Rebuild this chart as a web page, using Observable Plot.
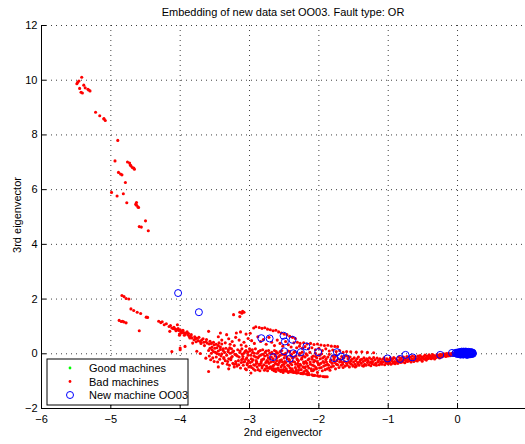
<!DOCTYPE html>
<html>
<head>
<meta charset="utf-8">
<script src="https://cdn.jsdelivr.net/npm/d3@7"></script>
<script src="https://cdn.jsdelivr.net/npm/@observablehq/plot@0.6"></script>
<style>
  html, body { margin: 0; padding: 0; background: #fff; }
  #chart { width: 525px; height: 444px; }
</style>
</head>
<body>
<div id="chart"></div>
<script>
// ---------- text ----------
const titleText = "Embedding of new data set OO03. Fault type: OR";
const xLabel = "2nd eigenvector";
const yLabel = "3rd eigenvector";
const legendLabels = ["Good machines", "Bad machines", "New machine OO03"];
const xTicks = [-6, -5, -4, -3, -2, -1, 0];
const yTicks = [-2, 0, 2, 4, 6, 8, 10, 12];

// ---------- data (x = 2nd eigenvector, y = 3rd eigenvector) ----------
const badTop = `-5.42,10.11 -5.48,9.92 -5.49,9.87 -5.46,9.97 -5.39,9.82 -5.37,9.72 -5.45,9.70 -5.33,9.67 -5.30,9.61 -5.43,9.56 -5.41,9.53 -5.32,9.64
-5.22,8.83 -5.16,8.70 -5.10,8.58 -5.08,8.53 -5.10,8.60 -4.90,7.80 -4.94,7.05 -4.76,7.01 -4.73,6.97 -4.71,6.87 -4.69,6.81 -4.66,6.75 -4.72,6.90 -4.67,6.79
-4.89,6.63 -4.86,6.57 -4.84,6.54 -4.79,6.26 -4.99,5.90 -4.91,5.77 -4.82,5.85 -4.77,5.52 -4.63,5.53 -4.63,5.43 -4.61,5.37 -4.60,5.35 -4.64,5.47
-4.50,4.86 -4.59,4.65 -4.56,4.63 -4.46,4.50`;

const badLeft = `-4.84,2.13 -4.81,2.09 -4.78,2.02 -4.74,2.00 -4.71,1.64 -4.67,1.58 -4.62,1.52 -4.57,1.47 -4.47,1.33 -4.49,1.34 -4.88,1.22 -4.85,1.18
-4.81,1.16 -4.78,1.13 -4.83,1.19 -4.59,0.84 -3.23,1.43 -3.14,1.52 -3.11,1.48 -3.08,1.52 -3.14,1.36 -3.10,1.55`;

const badStrand = `-4.31,1.19 -4.28,1.14 -4.26,1.17 -4.23,1.06 -4.20,1.10 -4.16,1.00 -4.14,1.03 -4.12,0.94 -4.09,0.97 -4.07,0.90 -4.04,1.06 -4.05,0.88
-4.02,0.85 -4.00,0.88 -3.99,0.80 -3.97,0.82 -3.95,0.78 -3.92,0.76 -3.93,0.72 -4.15,0.82 -4.01,0.72 -4.01,0.68 -3.89,0.70 -3.87,0.63 -3.85,0.66
-3.83,0.58 -3.80,0.51 -3.82,0.39 -3.78,0.55 -3.76,0.57 -3.74,0.48 -3.71,0.45 -3.69,0.50 -3.66,0.42 -3.63,0.44 -3.61,0.39 -3.58,0.36 -3.55,0.38
-3.51,0.33 -3.48,0.35 -3.45,0.30 -4.12,0.08 -4.00,0.21 -4.00,0.15 -3.93,0.27 -3.76,0.09 -3.59,-0.65 -3.63,-0.16 -3.71,0.01 -3.47,0.01 -3.37,-0.17
-4.10,0.92 -4.06,0.84 -4.03,0.92 -3.98,0.76 -3.96,0.86 -3.94,0.68 -3.90,0.80 -3.88,0.74 -3.86,0.58 -3.84,0.70 -3.79,0.62 -3.77,0.44 -3.73,0.60
-3.70,0.38 -3.67,0.55 -3.65,0.30 -3.62,0.52 -3.57,0.46 -3.54,0.25 -3.52,0.42 -3.50,0.20 -3.44,0.40 -3.42,0.25 -3.40,0.36 -3.38,0.18`;

const badUpper = `-3.59,0.82 -3.42,0.76 -3.33,0.70 -3.19,0.76 -3.13,0.80 -3.05,0.72 -2.99,0.75 -2.94,0.94 -2.91,0.99 -2.86,0.96 -2.82,0.93 -2.78,0.95
-2.74,0.90 -2.70,0.88 -2.66,0.84 -2.62,0.86 -2.58,0.80 -2.54,0.76 -2.50,0.72 -2.46,0.70 -2.42,0.64 -2.38,0.60 -2.34,0.56 -2.31,0.42 -2.27,0.38
-2.22,0.40 -2.17,0.36 -2.12,0.38 -2.07,0.34 -2.02,0.36 -1.97,0.32 -1.92,0.30 -1.87,0.31 -1.82,0.28 -1.77,0.27 -1.73,0.26
-3.30,0.55 -3.25,0.45 -3.20,0.60 -3.15,0.50 -3.08,0.42 -3.02,0.56 -2.97,0.48 -2.93,0.38 -2.88,0.62 -2.84,0.45 -2.80,0.52 -2.76,0.35 -2.72,0.60
-2.68,0.42 -2.64,0.30 -2.60,0.50 -2.56,0.38 -2.52,0.28 -2.48,0.45 -2.44,0.33 -2.40,0.25 -2.36,0.40 -2.32,0.22 -2.28,0.28 -2.24,0.20 -2.20,0.26
-2.15,0.18 -2.10,0.22 -2.05,0.15 -2.00,0.20 -1.95,0.12 -1.90,0.18 -1.85,0.10 -1.80,0.14 -1.75,0.08 -1.70,0.12 -1.65,0.05 -1.60,0.08
-3.45,0.62 -3.40,0.50 -3.35,0.40 -3.28,0.35 -3.22,0.30 -3.12,0.32 -3.05,0.28 -1.54,0.07 -1.46,0.06 -1.38,0.07 -1.30,0.05 -1.21,0.04
-3.45,-0.48 -2.98,-0.70 -3.30,-0.55`;

const badBand = `-3.59,0.12 -3.58,-0.08 -3.57,0.20 -3.56,-0.22 -3.55,0.02 -3.54,0.15 -3.53,-0.15 -3.52,0.08 -3.51,-0.28
-3.49,0.05 -3.48,-0.12 -3.47,0.22 -3.46,-0.30 -3.45,0.10 -3.44,-0.02 -3.43,-0.20 -3.42,0.16 -3.41,-0.08 -3.40,0.00
-3.39,-0.35 -3.38,0.12 -3.37,-0.14 -3.36,0.05 -3.35,-0.25 -3.34,0.20 -3.33,-0.05 -3.32,-0.38 -3.31,0.08 -3.30,-0.18 -3.305,0.15 -3.315,-0.28
-3.29,-0.42 -3.28,0.02 -3.27,-0.22 -3.26,0.18 -3.25,-0.10 -3.24,-0.35 -3.23,0.10 -3.22,-0.48 -3.21,-0.02 -3.20,-0.28 -3.285,0.22 -3.265,-0.15 -3.245,0.06 -3.225,-0.38
-3.19,-0.05 -3.18,-0.45 -3.17,0.15 -3.16,-0.25 -3.15,-0.12 -3.14,0.05 -3.13,-0.52 -3.12,-0.32 -3.11,0.18 -3.10,-0.18 -3.195,-0.36 -3.175,-0.08 -3.155,-0.40 -3.135,0.10 -3.115,-0.22 -3.105,-0.02
-3.09,-0.42 -3.08,0.02 -3.07,-0.28 -3.06,-0.55 -3.05,0.12 -3.04,-0.15 -3.03,-0.35 -3.02,-0.05 -3.01,-0.48 -3.00,0.18 -3.095,-0.10 -3.085,-0.30 -3.065,0.08 -3.055,-0.20 -3.045,-0.58 -3.035,-0.40 -3.025,0.05 -3.015,-0.25
-2.99,-0.32 -2.98,-0.05 -2.97,-0.50 -2.96,0.15 -2.95,-0.22 -2.94,-0.40 -2.93,0.02 -2.92,-0.60 -2.91,-0.12 -2.90,-0.35 -2.995,0.10 -2.985,-0.45 -2.975,-0.18 -2.965,-0.28 -2.955,0.05 -2.945,-0.55 -2.935,-0.08 -2.925,-0.42 -2.915,0.18 -2.905,-0.25
-2.89,-0.48 -2.88,-0.15 -2.87,0.08 -2.86,-0.38 -2.85,-0.62 -2.84,-0.05 -2.83,-0.28 -2.82,-0.52 -2.81,0.15 -2.80,-0.20 -2.895,-0.30 -2.885,0.02 -2.875,-0.58 -2.865,-0.10 -2.855,-0.42 -2.845,0.12 -2.835,-0.35 -2.825,-0.22 -2.815,-0.45 -2.805,-0.02
-2.79,-0.40 -2.78,-0.08 -2.77,-0.55 -2.76,0.10 -2.75,-0.25 -2.74,-0.62 -2.73,-0.15 -2.72,-0.35 -2.71,0.02 -2.70,-0.48 -2.795,-0.18 -2.785,-0.60 -2.775,0.05 -2.765,-0.32 -2.755,-0.45 -2.745,-0.05 -2.735,-0.28 -2.725,0.12 -2.715,-0.52 -2.705,-0.20
-2.69,-0.30 -2.68,0.05 -2.67,-0.58 -2.66,-0.18 -2.65,-0.42 -2.64,0.12 -2.63,-0.08 -2.62,-0.65 -2.61,-0.25 -2.60,-0.38 -2.695,-0.50 -2.685,-0.12 -2.675,0.00 -2.665,-0.45 -2.655,-0.28 -2.645,-0.62 -2.635,-0.02 -2.625,-0.35 -2.615,0.08 -2.605,-0.15
-2.59,-0.52 -2.58,-0.10 -2.57,-0.32 -2.56,0.08 -2.55,-0.65 -2.54,-0.22 -2.53,-0.42 -2.52,-0.02 -2.51,-0.58 -2.50,-0.15 -2.595,0.02 -2.585,-0.40 -2.575,-0.60 -2.565,-0.25 -2.555,-0.05 -2.545,-0.48 -2.535,0.12 -2.525,-0.30 -2.515,-0.68 -2.505,-0.38
-2.49,-0.28 -2.48,0.02 -2.47,-0.55 -2.46,-0.12 -2.45,-0.42 -2.44,-0.68 -2.43,-0.20 -2.42,0.08 -2.41,-0.35 -2.40,-0.60 -2.495,-0.48 -2.485,-0.05 -2.475,-0.32 -2.465,-0.62 -2.455,-0.18 -2.445,0.10 -2.435,-0.45 -2.425,-0.25 -2.415,-0.52 -2.405,-0.08
-2.39,-0.40 -2.38,-0.15 -2.37,-0.62 -2.36,0.05 -2.35,-0.30 -2.34,-0.50 -2.33,-0.08 -2.32,-0.70 -2.31,-0.22 -2.30,-0.45 -2.395,-0.02 -2.385,-0.55 -2.375,-0.28 -2.365,-0.68 -2.355,-0.12 -2.345,0.08 -2.335,-0.38 -2.325,-0.58 -2.315,-0.18 -2.305,-0.35
-2.29,-0.60 -2.28,-0.05 -2.27,-0.38 -2.26,-0.72 -2.25,-0.20 -2.24,0.06 -2.23,-0.48 -2.22,-0.30 -2.21,-0.65 -2.20,-0.12 -2.295,-0.25 -2.285,-0.50 -2.275,0.02 -2.265,-0.42 -2.255,-0.58 -2.245,-0.15 -2.235,-0.70 -2.225,-0.08 -2.215,-0.35 -2.205,-0.52
-2.19,-0.28 -2.18,-0.60 -2.17,-0.05 -2.16,-0.45 -2.15,-0.70 -2.14,-0.18 -2.13,0.05 -2.12,-0.38 -2.11,-0.55 -2.10,-0.12 -2.195,-0.48 -2.185,0.00 -2.175,-0.35 -2.165,-0.65 -2.155,-0.22 -2.145,-0.52 -2.125,-0.30 -2.105,-0.62
-2.09,-0.42 -2.08,-0.08 -2.07,-0.58 -2.06,-0.25 -2.05,0.02 -2.04,-0.50 -2.03,-0.15 -2.02,-0.68 -2.01,-0.35 -2.00,-0.05 -2.095,-0.20 -2.085,-0.62 -2.075,-0.30 -2.065,-0.45 -2.045,-0.10 -2.035,-0.55 -2.025,-0.28 -2.005,-0.40
-1.99,-0.52 -1.98,-0.18 -1.97,-0.35 -1.96,0.00 -1.95,-0.62 -1.94,-0.28 -1.93,-0.45 -1.92,-0.10 -1.91,-0.58 -1.90,-0.22 -1.995,-0.40 -1.985,-0.05 -1.965,-0.50 -1.945,-0.15 -1.925,-0.32 -1.905,-0.42
-1.89,-0.30 -1.88,-0.55 -1.87,-0.12 -1.86,-0.42 -1.85,-0.02 -1.84,-0.60 -1.83,-0.22 -1.82,-0.48 -1.81,-0.35 -1.80,-0.08 -1.895,-0.18 -1.875,-0.38 -1.855,-0.52 -1.835,-0.28
-1.79,-0.45 -1.78,-0.15 -1.77,-0.32 -1.76,-0.55 -1.75,-0.05 -1.74,-0.25 -1.73,-0.40 -1.72,-0.18 -1.71,-0.50 -1.70,-0.30 -1.785,-0.22 -1.765,-0.10 -1.745,-0.38
-1.69,-0.20 -1.68,-0.42 -1.67,-0.10 -1.66,-0.32 -1.65,-0.50 -1.64,-0.15 -1.63,-0.28 -1.62,-0.45 -1.61,-0.08 -1.60,-0.35 -1.685,-0.25 -1.655,-0.38
-1.59,-0.42 -1.58,-0.18 -1.57,-0.30 -1.56,-0.48 -1.55,-0.12 -1.54,-0.25 -1.53,-0.38 -1.52,-0.20 -1.51,-0.45 -1.50,-0.30 -1.575,-0.10 -1.545,-0.35
-1.49,-0.15 -1.48,-0.38 -1.47,-0.25 -1.46,-0.45 -1.45,-0.18 -1.44,-0.32 -1.43,-0.12 -1.42,-0.42 -1.41,-0.28 -1.40,-0.22 -1.475,-0.48 -1.435,-0.36
-1.39,-0.35 -1.38,-0.20 -1.37,-0.44 -1.36,-0.28 -1.35,-0.15 -1.34,-0.38 -1.33,-0.24 -1.32,-0.42 -1.31,-0.18 -1.30,-0.32 -1.355,-0.45
-1.29,-0.25 -1.28,-0.40 -1.27,-0.15 -1.26,-0.32 -1.25,-0.44 -1.24,-0.20 -1.23,-0.36 -1.22,-0.28 -1.21,-0.14 -1.20,-0.40 -1.245,-0.30
-1.19,-0.22 -1.18,-0.35 -1.17,-0.42 -1.16,-0.16 -1.15,-0.30 -1.14,-0.25 -1.13,-0.40 -1.12,-0.18 -1.11,-0.34 -1.10,-0.28
-1.09,-0.38 -1.08,-0.20 -1.07,-0.30 -1.06,-0.15 -1.05,-0.40 -1.04,-0.25 -1.03,-0.34 -1.02,-0.18 -1.01,-0.28 -1.00,-0.36
-0.99,-0.22 -0.98,-0.32 -0.97,-0.15 -0.96,-0.38 -0.95,-0.26 -0.94,-0.20 -0.93,-0.34 -0.92,-0.14 -0.91,-0.28 -0.90,-0.36
-0.89,-0.18 -0.88,-0.30 -0.87,-0.24 -0.86,-0.35 -0.85,-0.12 -0.84,-0.27 -0.83,-0.20 -0.82,-0.32 -0.81,-0.15 -0.80,-0.25
-0.79,-0.30 -0.78,-0.12 -0.77,-0.22 -0.76,-0.33 -0.75,-0.18 -0.74,-0.26 -0.73,-0.10 -0.72,-0.28 -0.71,-0.20 -0.70,-0.14
-0.69,-0.25 -0.68,-0.12 -0.67,-0.30 -0.66,-0.18 -0.65,-0.08 -0.64,-0.22 -0.63,-0.28 -0.62,-0.15 -0.61,-0.10 -0.60,-0.24
-0.59,-0.18 -0.58,-0.26 -0.57,-0.08 -0.56,-0.14 -0.55,-0.22 -0.54,-0.06 -0.53,-0.20 -0.52,-0.12 -0.51,-0.27 -0.50,-0.16
-0.49,-0.10 -0.48,-0.20 -0.47,-0.05 -0.46,-0.15 -0.45,-0.23 -0.44,-0.08 -0.43,-0.18 -0.42,-0.12 -0.41,-0.04 -0.40,-0.16
-0.39,-0.08 -0.38,-0.18 -0.37,-0.12 -0.36,-0.03 -0.35,-0.15 -0.34,-0.06 -0.33,-0.19 -0.32,-0.10 -0.31,-0.14 -0.30,-0.04
-0.29,-0.12 -0.28,-0.05 -0.27,-0.09 -0.26,-0.15 -0.25,-0.02 -0.24,-0.07 -0.23,-0.12 -0.22,-0.04 -0.21,-0.09 -0.20,0.00
-0.19,-0.06 -0.18,-0.02 -0.17,-0.10 -0.16,0.01 -0.15,-0.05 -0.14,-0.08 -0.13,0.02 -0.12,-0.03 -0.11,-0.07 -0.10,0.00
-0.09,-0.04 -0.08,0.02 -0.07,-0.02 -0.06,-0.06 -0.05,0.01 -0.04,-0.03 -0.03,0.03 -0.02,-0.01 -0.01,0.00 0.00,-0.03`;

const badTail = `-2.74,-0.51 -2.72,-0.52 -2.70,-0.53 -2.66,-0.54 -2.64,-0.56 -2.62,-0.56 -2.58,-0.58 -2.56,-0.60 -2.54,-0.59 -2.50,-0.61 -2.48,-0.63
-2.46,-0.63 -2.42,-0.64 -2.40,-0.66 -2.38,-0.66 -2.34,-0.68 -2.32,-0.69 -2.30,-0.69 -2.26,-0.71 -2.24,-0.73 -2.22,-0.73 -2.18,-0.74
-2.16,-0.76 -2.14,-0.76 -2.10,-0.77 -2.08,-0.79 -2.06,-0.79 -2.02,-0.80 -2.00,-0.82 -1.98,-0.81 -1.94,-0.83 -1.92,-0.84 -1.90,-0.84 -1.88,-0.84`;

const newScatter = `-4.03,2.22 -3.73,1.52 -2.83,0.57 -2.71,0.56 -2.51,0.66 -2.49,0.45 -2.38,0.51 -2.18,0.27 -2.50,0.09 -2.37,0.02 -2.26,0.06
-2.01,0.06 -1.74,0.06 -2.66,-0.12 -2.42,-0.18 -1.78,-0.16 -1.68,-0.10 -1.61,-0.16 -1.01,-0.17 -0.83,-0.19 -0.75,-0.04 -0.65,-0.13
-0.25,-0.04 -0.08,0.03`;

const newBlob = `-0.03,0.02 -0.02,0.04 -0.01,0.00 0.00,0.03 0.01,0.05 0.01,-0.01 0.02,0.02 0.03,0.06 0.03,0.00 0.04,0.03 0.05,-0.02 0.05,0.05
0.06,0.01 0.07,0.04 0.07,-0.01 0.08,0.06 0.08,0.02 0.09,-0.02 0.10,0.04 0.10,0.00 0.11,0.07 0.11,0.02 0.12,-0.01 0.12,0.05 0.13,0.03
0.13,-0.03 0.14,0.06 0.14,0.01 0.15,0.04 0.15,-0.02 0.16,0.07 0.16,0.02 0.17,0.00 0.17,0.05 0.18,0.03 0.18,-0.02 0.19,0.06 0.19,0.01
0.20,0.04 0.20,-0.01 0.21,0.02 0.21,0.05 0.22,0.03 0.22,0.00 0.06,0.08 0.09,0.08 0.12,0.08 0.04,-0.03 0.08,-0.03 0.14,-0.04`;

const goodPts = `0.05,0.02 0.10,0.03 0.15,0.01`;

// ---------- build tables ----------
const parse = s => s.trim().split(/\s+/).map(p => { const [x, y] = p.split(",").map(Number); return {x, y}; });
const good = parse(goodPts);
const bad = [badTop, badLeft, badStrand, badUpper, badBand, badTail].flatMap(parse);
const newMachine = [newScatter, newBlob].flatMap(parse);

const FONT = "'Liberation Sans', Arial, Helvetica, sans-serif";
const gridStyle = {stroke: "#000", strokeOpacity: 0.75, strokeDasharray: "1,4", strokeWidth: 1};

const plot = Plot.plot({
  width: 525,
  height: 444,
  marginLeft: 41,
  marginRight: 0,
  marginTop: 25,
  marginBottom: 36,
  x: {domain: [-6, 0.98], label: null},
  y: {domain: [-2, 12], label: null},
  style: {fontFamily: FONT, fontSize: "11px", background: "#fff", color: "#000", overflow: "visible"},
  marks: [
    Plot.gridX(xTicks.filter(d => d > -6), gridStyle),
    Plot.gridY(yTicks.filter(d => d > -2), gridStyle),
    Plot.dot(good, {x: "x", y: "y", r: 1.5, fill: "#00ff00", stroke: null}),
    Plot.dot(bad, {x: "x", y: "y", r: 1.55, fill: "#ff0000", stroke: null}),
    Plot.dot(newMachine, {x: "x", y: "y", r: 3.5, stroke: "#0000ff", fill: "none", strokeWidth: 1}),
    Plot.ruleX([-6], {stroke: "#000", strokeWidth: 1}),
    Plot.ruleY([-2], {stroke: "#000", strokeWidth: 1}),
    Plot.axisX(xTicks, {anchor: "bottom", tickSize: -5, tickPadding: 12, fontSize: 11, label: null}),
    Plot.axisY(yTicks, {anchor: "left", tickSize: -5, tickPadding: 9, fontSize: 11, label: null})
  ]
});

const svg = d3.select(plot);
svg.append("text")
  .attr("x", 283).attr("y", 16)
  .attr("text-anchor", "middle")
  .style("font", `11px ${FONT}`)
  .text(titleText);
svg.append("text")
  .attr("x", 283).attr("y", 436)
  .attr("text-anchor", "middle")
  .style("font", `11px ${FONT}`)
  .text(xLabel);
svg.append("text")
  .attr("transform", "translate(21,215) rotate(-90)")
  .attr("text-anchor", "middle")
  .style("font", `11px ${FONT}`)
  .text(yLabel);

// legend
const lg = svg.append("g").attr("transform", "translate(47,359)");
lg.append("rect").attr("width", 141).attr("height", 46).attr("fill", "#fff").attr("stroke", "#000").attr("stroke-width", 1);
const rows = [
  {label: legendLabels[0], kind: "good"},
  {label: legendLabels[1], kind: "bad"},
  {label: legendLabels[2], kind: "new"}
];
rows.forEach((r, i) => {
  const cy = 9 + i * 13.5;
  if (r.kind === "new") {
    lg.append("circle").attr("cx", 23).attr("cy", cy).attr("r", 3.5).attr("fill", "none").attr("stroke", "#0000ff");
  } else {
    lg.append("circle").attr("cx", 23).attr("cy", cy).attr("r", 1.4).attr("fill", r.kind === "good" ? "#00ff00" : "#ff0000");
  }
  lg.append("text").attr("x", 42).attr("y", cy + 4).attr("text-anchor", "start").style("font", `11px ${FONT}`).text(r.label);
});

document.getElementById("chart").appendChild(plot);
</script>
</body>
</html>
